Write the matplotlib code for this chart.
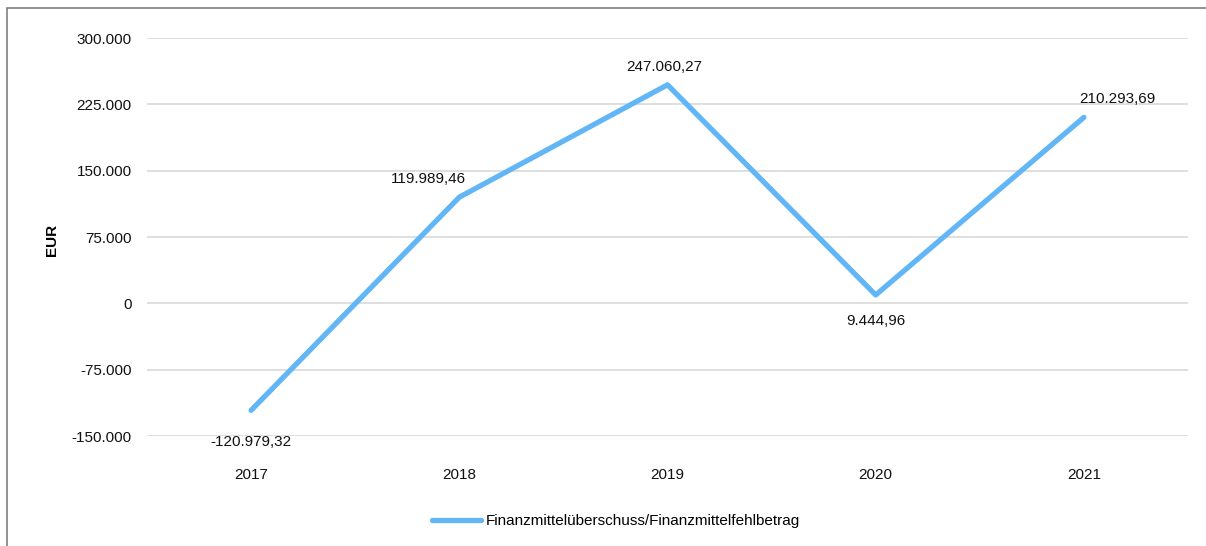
import matplotlib.pyplot as plt
from matplotlib.patches import Rectangle
from matplotlib.ticker import FuncFormatter

plt.rcParams['font.family'] = ['Liberation Sans', 'DejaVu Sans']

years = ['2017', '2018', '2019', '2020', '2021']
werte = [-120979.32, 119989.46, 247060.27, 9444.96, 210293.69]
labels = ['-120.979,32', '119.989,46', '247.060,27', '9.444,96', '210.293,69']
yticks = [-150000, -75000, 0, 75000, 150000, 225000, 300000]

fig = plt.figure(figsize=(12.06, 5.46), dpi=100)
ax = fig.add_axes([147 / 1206, 1 - 436 / 546, (1188 - 147) / 1206, (436 - 38) / 546])

x = range(len(years))
ax.plot(x, werte, color='#63b6f6', lw=3.8, solid_capstyle='round', solid_joinstyle='round',
        label='Finanzmittelüberschuss/Finanzmittelfehlbetrag', zorder=3)

# Datenbeschriftungen
offsets = [(0, -18, 'center', 'top'), (-22, 8, 'center', 'bottom'), (-2, 8, 'center', 'bottom'),
           (0, -14, 'center', 'top'), (24, 8, 'center', 'bottom')]
for i, (v, t) in enumerate(zip(werte, labels)):
    dx, dy, ha, va = offsets[i]
    ax.annotate(t, (i, v), xytext=(dx, dy), textcoords='offset points', ha=ha, va=va,
                fontsize=11, color='#111111')

ax.set_xlim(-0.5, len(years) - 0.5)
ax.set_ylim(-150000, 300000)
ax.set_xticks(list(x))
ax.set_xticklabels(years)
ax.set_yticks(yticks)
ax.yaxis.set_major_formatter(FuncFormatter(lambda v, p: f'{int(v):,}'.replace(',', '.')))
ax.tick_params(length=0, labelsize=11, colors='#111111')
ax.tick_params(axis='y', pad=11)
ax.tick_params(axis='x', pad=23)
ax.grid(axis='y', color='#d9d9d9', lw=1.2)
ax.set_axisbelow(True)
for s in ax.spines.values():
    s.set_visible(False)

fig.text(52 / 1206, 1 - 240 / 546, 'EUR', rotation=90, fontsize=11, fontweight='bold',
         ha='center', va='center')

fig.legend(loc='center', bbox_to_anchor=(616 / 1206, 1 - 521 / 546), frameon=False,
           fontsize=11, handlelength=3.2, handletextpad=0.3)

# Rahmen
fig.patches.append(Rectangle((7 / 1206, -0.05), 1.1, 1 - 8 / 546 + 0.05, transform=fig.transFigure,
                             fill=False, edgecolor='#7f7f7f', lw=1.2))

fig.savefig('out.png', dpi=100)
